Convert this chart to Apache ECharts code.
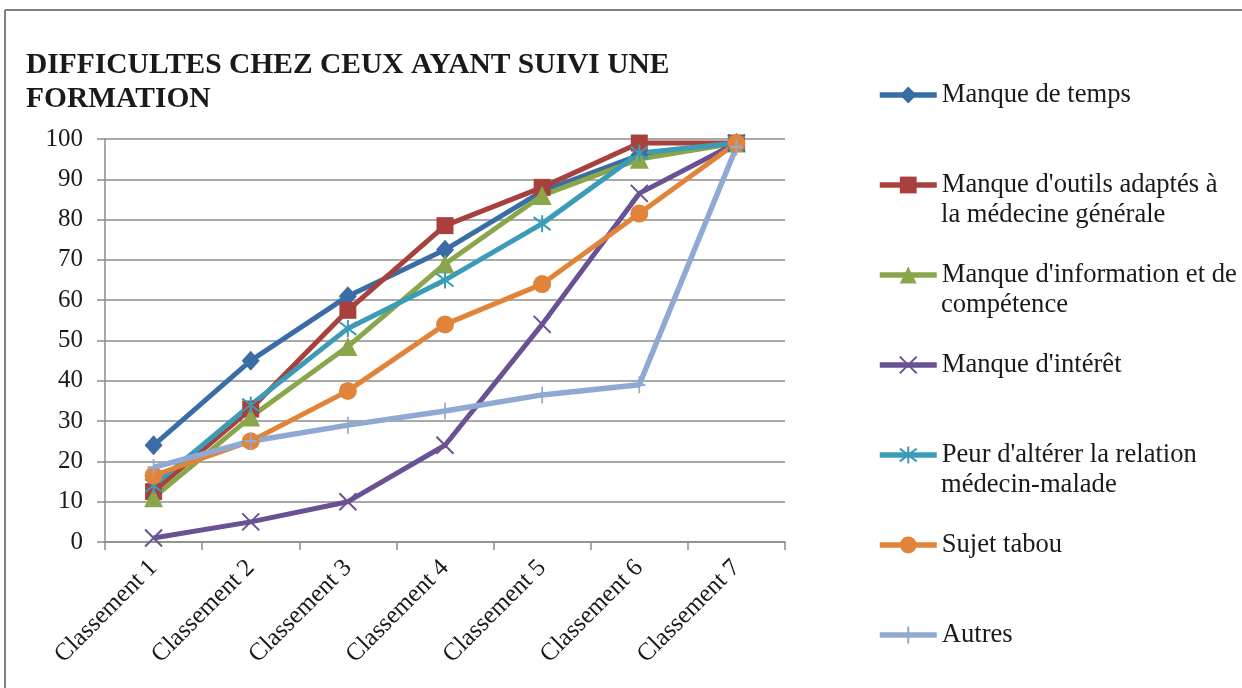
<!DOCTYPE html>
<html>
<head>
<meta charset="utf-8">
<script src="https://cdn.jsdelivr.net/npm/echarts@6/dist/echarts.min.js"></script>
<style>
html,body{margin:0;padding:0;background:#fff;}
#chart{width:1242px;height:688px;}
</style>
</head>
<body>
<div id="chart"></div>
<script>
// ---- Data ----
const categories = ['Classement 1','Classement 2','Classement 3','Classement 4','Classement 5','Classement 6','Classement 7'];
const seriesNames = [
  "Manque de temps",
  "Manque d'outils adaptés à",
  "Manque d'information et de",
  "Manque d'intérêt",
  "Peur d'altérer la relation",
  "Sujet tabou",
  "Autres"
];
const secondLines = ["", "la médecine générale", "compétence", "", "médecin-malade", "", ""];
const manqueTemps = [24, 45, 61, 72.5, 87, 96, 99];
const manqueOutils = [12.5, 33, 57.5, 78.5, 88, 99, 99];
const manqueInformation = [11, 31, 48.5, 69, 86, 95, 99];
const manqueInteret = [1, 5, 10, 24, 54, 86.5, 99];
const peurRelation = [14, 34, 53, 65, 79, 96.5, 99];
const sujetTabou = [16.5, 25, 37.5, 54, 64, 81.5, 99];
const autres = [18.5, 25, 29, 32.5, 36.5, 39, 98];
const yTicks = {min: 0, max: 100, interval: 10};

// ---- Styles ----
const values = [manqueTemps, manqueOutils, manqueInformation, manqueInteret, peurRelation, sujetTabou, autres];
const colors = ['#3A6DA6', '#A8413D', '#8AA64A', '#6A5194', '#3C9CB7', '#E1843A', '#8FA9D2'];
const symbols = [
  'diamond', 'rect', 'triangle',
  'path://M0,0L10,10M10,0L0,10',
  'path://M5,0L5,10M1.2,1.2L8.8,8.8M8.8,1.2L1.2,8.8',
  'circle',
  'path://M5,0L5,10M2,5L8,5'
];
const symbolSizes = [[18,20], 17, 19, 17, 17, 18, [12,17]];
const strokeSym = [false,false,false,true,true,false,true];
const lineWidths = [5,5,5,5,5,5,5.5];
const font = 'Liberation Serif, Times New Roman, serif';
const textColor = '#1a1a1a';
const gridColor = '#8c8c8c';

const legendFirstY = 95, legendStep = 90;
const legends = seriesNames.map((n, i) => ({
  data: [n],
  left: 877,
  top: legendFirstY + legendStep * i - 15,
  padding: 0,
  itemWidth: 57,
  itemHeight: 21,
  itemGap: 0,
  selectedMode: false,
  lineStyle: {width: 5.5},
  textStyle: {fontFamily: font, fontSize: 26.6, color: textColor, lineHeight: 30}
}));

const graphics = [
  {type: 'line', shape: {x1: 5, y1: 10, x2: 1242, y2: 10}, style: {stroke: '#808080', lineWidth: 2}, silent: true},
  {type: 'line', shape: {x1: 5, y1: 10, x2: 5, y2: 688}, style: {stroke: '#808080', lineWidth: 2}, silent: true}
];
secondLines.forEach((t, i) => {
  if (!t) return;
  graphics.push({
    type: 'text', left: 941, top: legendFirstY + legendStep * i + 30 - 15,
    style: {text: t, fontFamily: font, fontSize: 26.6, fill: textColor, lineHeight: 30}
  });
});

const chart = echarts.init(document.getElementById('chart'));
chart.setOption({
  animation: false,
  backgroundColor: '#ffffff',
  title: {
    text: 'DIFFICULTES CHEZ CEUX AYANT SUIVI UNE\nFORMATION',
    left: 26, top: 48, padding: 0,
    textStyle: {fontFamily: font, fontWeight: 'bold', fontSize: 29.5, lineHeight: 34, color: textColor}
  },
  legend: legends,
  graphic: graphics,
  grid: {left: 105, right: 457, top: 139, bottom: 146, containLabel: false},
  xAxis: {
    type: 'category',
    data: categories,
    boundaryGap: true,
    axisLine: {lineStyle: {color: gridColor, width: 1.5}},
    axisTick: {show: true, length: 8, alignWithLabel: false, lineStyle: {color: gridColor, width: 1.5}},
    axisLabel: {rotate: 45, margin: 22, fontFamily: font, fontSize: 25, color: textColor, interval: 0}
  },
  yAxis: {
    type: 'value',
    min: yTicks.min, max: yTicks.max, interval: yTicks.interval,
    axisLine: {show: true, lineStyle: {color: gridColor, width: 1.5}},
    axisTick: {show: true, length: 8, lineStyle: {color: gridColor, width: 1.5}},
    splitLine: {show: true, lineStyle: {color: gridColor, width: 1.5}},
    axisLabel: {margin: 22, fontFamily: font, fontSize: 25, color: textColor}
  },
  series: seriesNames.map((n, i) => ({
    name: n,
    type: 'line',
    data: values[i],
    symbol: symbols[i],
    symbolSize: symbolSizes[i],
    showAllSymbol: true,
    lineStyle: {color: colors[i], width: lineWidths[i]},
    itemStyle: strokeSym[i]
      ? {color: colors[i], borderColor: colors[i], borderWidth: 2}
      : {color: colors[i], borderColor: colors[i], borderWidth: 0},
    emphasis: {disabled: true}
  }))
});
</script>
</body>
</html>
